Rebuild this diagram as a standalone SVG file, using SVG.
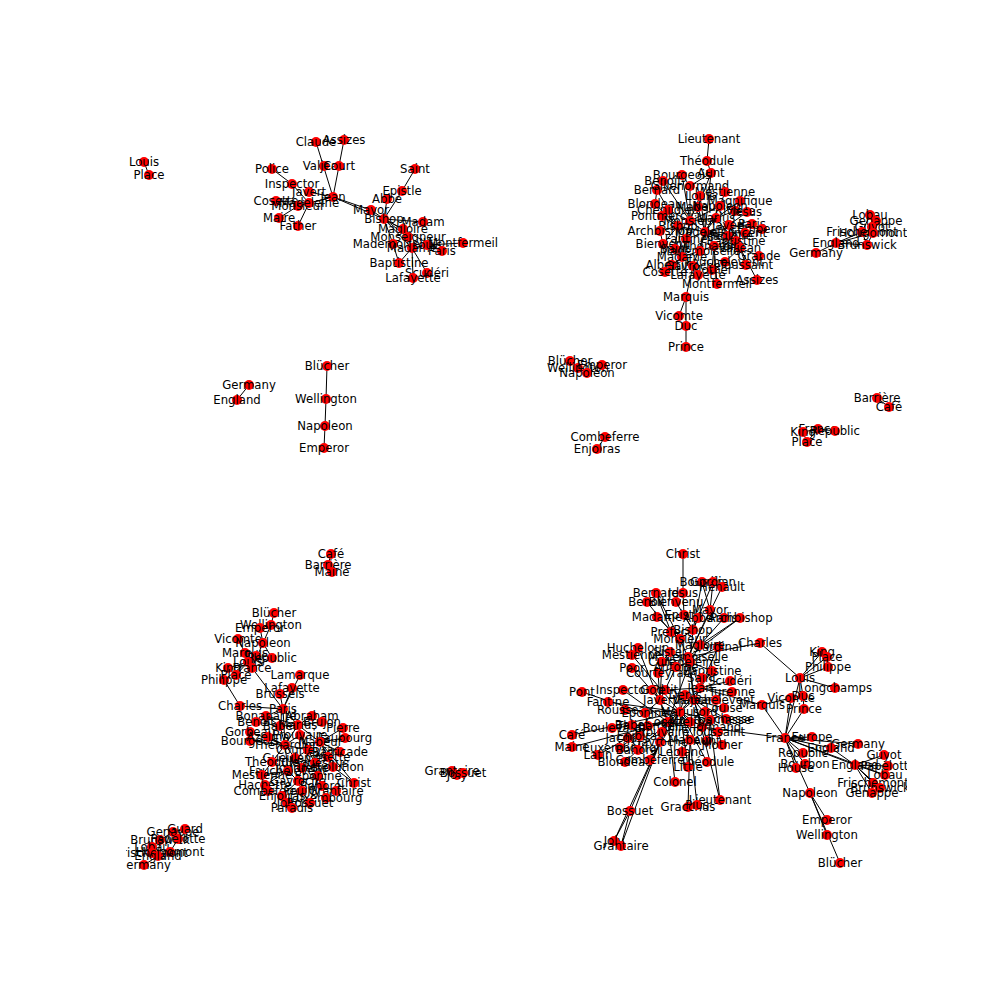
<svg xmlns="http://www.w3.org/2000/svg" width="1008" height="1008" viewBox="0 0 1008 1008">
<style>
.e{stroke:#000;stroke-width:1;fill:none}
.n circle{fill:#ff0000}
.n text{font-family:"DejaVu Sans",sans-serif;font-size:11.7px;text-anchor:middle;dominant-baseline:central;fill:#000}
</style>
<defs><clipPath id="ax"><rect x="126" y="121" width="781" height="776"/></clipPath></defs>
<rect width="1008" height="1008" fill="#fff"/>
<g id="connectors" class="e">
<path d="M144 162L149 175"/>
<path d="M316 142L333 197M344 140L333 197M272 169L292 184M292 184L309 203M309 192L333 197M309 203L333 197M298 206L333 197M276 201L309 203M279 218L298 206M298 226L309 203M333 197L371 210M333 197L384 219M371 210L384 219M387 199L384 219M415 169L402 191M402 191L384 219M384 219L423 222M384 219L403 229M384 219L408 237M384 219L393 244M384 219L412 248M384 219L442 251M412 248L399 263M412 248L413 278M412 248L427 273M412 248L427 245M427 245L463 243M393 244L399 263M408 237L412 248"/>
<path d="M709 139L707 161M707 161L711 173M711 173L690 186M711 173L698 207M682 175L690 186M663 181L690 221M657 190L678 226M690 186L690 221M725 192L720 206M740 201L716 218M655 204L678 226M700 196L690 221M700 196L705 232M668 210L690 221M735 211L716 218M747 212L729 225M662 216L678 226M698 207L705 232M720 206L705 232M716 218L705 232M690 221L705 232M690 221L678 226M678 226L705 232M729 225L705 232M752 224L705 232M762 229L729 225M660 231L678 226M745 233L705 232M705 232L686 239M705 232L714 246M705 232L700 251M728 236L705 232M686 239L690 221M736 241L705 232M663 244L678 226M714 246L740 248M740 248L705 232M675 249L678 226M700 251L682 257M759 256L740 248M682 257L690 221M725 262L740 248M746 265L740 248M672 265L682 257M693 266L705 232M712 270L714 246M665 272L682 257M698 275L682 257M717 284L714 246M757 280L740 248M686 297L693 266M686 297L679 316M686 297L686 326M686 326L686 347M716 218L690 221M678 226L682 257M686 239L682 257M729 225L740 248M716 218L740 248M720 206L690 221M740 201L735 211M660 231L663 244M663 244L682 257M752 224L762 229M714 246L700 251M736 241L740 248M668 210L662 216M657 190L655 204M682 175L690 221M711 173L705 232"/>
<path d="M816 253L836 243M836 243L867 245M836 243L862 232M836 243L873 233M862 232L870 215M873 233L876 221M867 245L873 233M870 215L876 221M872 227L873 233M867 245L862 232"/>
<path d="M249 385L237 400M327 366L326 399L325 426L324 448"/>
<path d="M570 361L578 368L587 373L602 365M605 437L597 449"/>
<path d="M877 398L889 407M803 432L807 442M803 432L818 429M818 429L835 431M807 442L818 429"/>
<path d="M331 554L328 565M328 565L332 572M274 613L271 625M271 625L260 628M260 628L263 643M271 625L263 643M263 643L272 658M263 643L252 668M238 639L245 653M245 653L252 668M256 656L252 668M248 662L228 668M248 662L236 675M248 662L224 680M248 662L252 668M272 658L252 668M224 680L240 706M252 668L283 709M300 675L283 709M292 688L283 709M280 694L283 709M240 706L283 709M312 716L298 725M283 709L298 725M283 709L266 716M266 716L280 726M256 722L280 726M250 732L285 745M250 741L285 745M280 726L298 725M298 725L285 745M322 722L298 725M343 728L320 742M300 735L285 745M268 737L285 745M345 738L320 742M320 742L298 725M285 745L295 758M308 750L285 745M340 752L320 742M328 757L308 750M295 758L288 771M272 762L285 745M315 763L308 750M302 768L295 758M333 767L328 757M288 771L298 781M262 775L288 771M318 776L315 763M298 781L302 791M265 785L288 771M354 783L333 767M322 786L318 776M268 791L282 796M336 791L322 786M302 791L310 803M282 796L298 781M326 798L322 786M287 803L282 796M310 803L318 776M292 808L287 803M285 745L288 771M298 725L308 750M300 735L308 750M320 742L328 757M298 781L318 776M295 758L315 763M250 732L250 741M280 726L285 745M266 716L298 725M308 750L295 758M302 768L298 781M272 762L262 775M265 785L268 791M354 783L320 742M283 709L285 745"/>
<path d="M144 865L158 856M158 856L152 847M158 856L160 840M158 856L170 852M158 856L152 853M160 840L173 832M173 832L185 829M178 839L173 832M178 839L170 852M152 847L160 840"/>
<path d="M452 771L457 775L463 773L452 771"/>
<path d="M683 554L683 593M683 593L684 615M702 582L693 630M713 582L693 630M722 587L688 657M702 582L710 610M713 582L710 610M656 593L671 632M647 602L671 632M676 602L693 630M656 593L680 639M710 610L688 657M657 617L680 639M684 615L693 630M698 618L693 630M724 618L700 645M740 618L700 645M740 618L688 657M671 632L680 639M680 639L693 630M680 639L690 662M718 647L690 662M638 648L668 722M632 655L680 712M688 657L690 662M700 645L690 662M693 630L690 662M632 668L660 700M658 673L690 662M712 671L690 662M730 681L700 688M623 690L668 722M582 692L645 713M732 692L700 688M608 702L680 712M625 710L680 712M724 708L694 700M726 719L694 700M612 728L668 722M572 735L680 712M572 747L668 722M628 738L680 712M620 748L648 726M598 755L648 726M625 762L668 722M650 760L680 712M707 741L694 700M707 762L680 712M688 767L680 712M675 782L668 722M720 800L710 720M720 800L694 700M688 807L690 740M697 805L690 740M630 811L660 742M614 841L630 811M621 846L630 811M621 846L660 742M614 841L660 742"/>
<path d="M690 662L700 688M700 688L694 700M694 700L680 712M660 700L680 712M680 712L668 722M668 722L648 726M648 726L640 736M660 742L668 722M645 713L660 700M702 727L680 712M690 740L680 712M716 700L694 700M718 732L702 727M710 720L694 700M632 725L648 726M662 732L668 722M690 722L680 712M682 752L690 740M665 690L660 700M702 678L700 688M652 690L660 700M670 652L690 662M662 662L670 652M676 667L690 662M685 695L694 700M705 712L710 720M722 745L718 732M638 750L640 736M690 662L694 700M700 688L680 712M680 712L710 720M668 722L660 700M640 736L632 725M645 713L648 726M702 727L710 720M665 690L700 688M676 667L665 690M662 662L660 700M685 695L680 712M660 742L690 740M662 732L660 742M680 639L680 712M688 657L694 700M690 662L668 722M658 673L660 700M712 671L700 688M718 647L700 688"/>
<path d="M760 643L800 678M760 643L688 657M800 678L822 652M800 678L827 657M800 678L828 667M800 678L835 688M800 678L803 696M800 678L785 738M762 705L791 698M791 698L803 696M803 696L804 709M804 709L785 738M791 698L785 738M762 705L785 738M762 705L700 688M785 738L702 727M785 738L812 737M785 738L831 748M785 738L803 753M785 738L805 764M785 738L796 768M785 738L855 765M785 738L858 744M831 748L855 765M855 765L884 755M855 765L888 766M855 765L885 775M855 765L873 783M855 765L880 788M855 765L872 793M785 738L885 775M785 738L810 793M810 793L827 820M810 793L827 835M810 793L840 863"/>
</g>
<g id="nodes" clip-path="url(#ax)">
<g id="a1" class="n" transform="translate(144 162)"><circle r="5"/><text>Louis</text></g>
<g id="a2" class="n" transform="translate(149 175)"><circle r="5"/><text>Place</text></g>

<g id="b1" class="n" transform="translate(316 142)"><circle r="5"/><text>Claude</text></g>
<g id="b2" class="n" transform="translate(344 140)"><circle r="5"/><text>Assizes</text></g>
<g id="b3" class="n" transform="translate(324 166)"><circle r="5"/><text>Valjean</text></g>
<g id="b4" class="n" transform="translate(339 166)"><circle r="5"/><text>Court</text></g>
<g id="b5" class="n" transform="translate(333 197)"><circle r="5"/><text>Jean</text></g>
<g id="b6" class="n" transform="translate(272 169)"><circle r="5"/><text>Police</text></g>
<g id="b7" class="n" transform="translate(292 184)"><circle r="5"/><text>Inspector</text></g>
<g id="b8" class="n" transform="translate(309 192)"><circle r="5"/><text>Javert</text></g>
<g id="b9" class="n" transform="translate(276 201)"><circle r="5"/><text>Cosette</text></g>
<g id="b10" class="n" transform="translate(298 206)"><circle r="5"/><text>Monsieur</text></g>
<g id="b11" class="n" transform="translate(309 203)"><circle r="5"/><text>Madeleine</text></g>
<g id="b12" class="n" transform="translate(279 218)"><circle r="5"/><text>Maire</text></g>
<g id="b13" class="n" transform="translate(298 226)"><circle r="5"/><text>Father</text></g>
<g id="b14" class="n" transform="translate(371 210)"><circle r="5"/><text>Mayor</text></g>
<g id="b15" class="n" transform="translate(387 199)"><circle r="5"/><text>Abbe</text></g>
<g id="b16" class="n" transform="translate(402 191)"><circle r="5"/><text>Epistle</text></g>
<g id="b17" class="n" transform="translate(415 169)"><circle r="5"/><text>Saint</text></g>
<g id="b18" class="n" transform="translate(384 219)"><circle r="5"/><text>Bishop</text></g>
<g id="b19" class="n" transform="translate(423 222)"><circle r="5"/><text>Madam</text></g>
<g id="b20" class="n" transform="translate(403 229)"><circle r="5"/><text>Magloire</text></g>
<g id="b21" class="n" transform="translate(408 237)"><circle r="5"/><text>Monseigneur</text></g>
<g id="b22" class="n" transform="translate(393 244)"><circle r="5"/><text>Mademoiselle</text></g>
<g id="b23" class="n" transform="translate(412 248)"><circle r="5"/><text>Madame</text></g>
<g id="b24" class="n" transform="translate(427 245)"><circle r="5"/><text>Louis</text></g>
<g id="b25" class="n" transform="translate(463 243)"><circle r="5"/><text>Montfermeil</text></g>
<g id="b26" class="n" transform="translate(442 251)"><circle r="5"/><text>Paris</text></g>
<g id="b27" class="n" transform="translate(399 263)"><circle r="5"/><text>Baptistine</text></g>
<g id="b28" class="n" transform="translate(427 273)"><circle r="5"/><text>Scudéri</text></g>
<g id="b29" class="n" transform="translate(413 278)"><circle r="5"/><text>Lafayette</text></g>

<g id="c1" class="n" transform="translate(709 139)"><circle r="5"/><text>Lieutenant</text></g>
<g id="c2" class="n" transform="translate(707 161)"><circle r="5"/><text>Théodule</text></g>
<g id="c3" class="n" transform="translate(711 173)"><circle r="5"/><text>Aunt</text></g>
<g id="c4" class="n" transform="translate(682 175)"><circle r="5"/><text>Bourgeois</text></g>
<g id="c5" class="n" transform="translate(663 181)"><circle r="5"/><text>Benoît</text></g>
<g id="c6" class="n" transform="translate(657 190)"><circle r="5"/><text>Bernard</text></g>
<g id="c7" class="n" transform="translate(690 186)"><circle r="5"/><text>Gillenormand</text></g>
<g id="c8" class="n" transform="translate(725 192)"><circle r="5"/><text>Mestienne</text></g>
<g id="c9" class="n" transform="translate(740 201)"><circle r="5"/><text>Magnifique</text></g>
<g id="c10" class="n" transform="translate(655 204)"><circle r="5"/><text>Blondeau</text></g>
<g id="c11" class="n" transform="translate(700 196)"><circle r="5"/><text>Louis</text></g>
<g id="c12" class="n" transform="translate(668 210)"><circle r="5"/><text>Chenildieu</text></g>
<g id="c13" class="n" transform="translate(735 211)"><circle r="5"/><text>Rivière</text></g>
<g id="c14" class="n" transform="translate(747 212)"><circle r="5"/><text>Jesus</text></g>
<g id="c15" class="n" transform="translate(662 216)"><circle r="5"/><text>Pontmercy</text></g>
<g id="c16" class="n" transform="translate(698 207)"><circle r="5"/><text>Mabeuf</text></g>
<g id="c17" class="n" transform="translate(720 206)"><circle r="5"/><text>Napoleon</text></g>
<g id="c18" class="n" transform="translate(716 218)"><circle r="5"/><text>Marius</text></g>
<g id="c19" class="n" transform="translate(690 221)"><circle r="5"/><text>Monsieur</text></g>
<g id="c20" class="n" transform="translate(678 226)"><circle r="5"/><text>Bishop</text></g>
<g id="c21" class="n" transform="translate(729 225)"><circle r="5"/><text>Javert</text></g>
<g id="c22" class="n" transform="translate(752 224)"><circle r="5"/><text>Paris</text></g>
<g id="c23" class="n" transform="translate(762 229)"><circle r="5"/><text>Emperor</text></g>
<g id="c24" class="n" transform="translate(660 231)"><circle r="5"/><text>Archbishop</text></g>
<g id="c25" class="n" transform="translate(745 233)"><circle r="5"/><text>Vincent</text></g>
<g id="c26" class="n" transform="translate(705 232)"><circle r="5"/><text>Madeleine</text></g>
<g id="c27" class="n" transform="translate(728 236)"><circle r="5"/><text>Magloire</text></g>
<g id="c28" class="n" transform="translate(686 239)"><circle r="5"/><text>Fantine</text></g>
<g id="c29" class="n" transform="translate(736 241)"><circle r="5"/><text>Baptistine</text></g>
<g id="c30" class="n" transform="translate(663 244)"><circle r="5"/><text>Bienvenu</text></g>
<g id="c31" class="n" transform="translate(714 246)"><circle r="5"/><text>Thénardier</text></g>
<g id="c32" class="n" transform="translate(740 248)"><circle r="5"/><text>Valjean</text></g>
<g id="c33" class="n" transform="translate(675 249)"><circle r="5"/><text>Saint</text></g>
<g id="c34" class="n" transform="translate(700 251)"><circle r="5"/><text>Mademoiselle</text></g>
<g id="c35" class="n" transform="translate(759 256)"><circle r="5"/><text>Grande</text></g>
<g id="c36" class="n" transform="translate(682 257)"><circle r="5"/><text>Madame</text></g>
<g id="c37" class="n" transform="translate(725 262)"><circle r="5"/><text>Fauchelevent</text></g>
<g id="c38" class="n" transform="translate(746 265)"><circle r="5"/><text>Toussaint</text></g>
<g id="c39" class="n" transform="translate(672 265)"><circle r="5"/><text>Albertine</text></g>
<g id="c40" class="n" transform="translate(693 266)"><circle r="5"/><text>Gavroche</text></g>
<g id="c41" class="n" transform="translate(712 270)"><circle r="5"/><text>Mother</text></g>
<g id="c42" class="n" transform="translate(665 272)"><circle r="5"/><text>Cosette</text></g>
<g id="c43" class="n" transform="translate(698 275)"><circle r="5"/><text>Lafayette</text></g>
<g id="c44" class="n" transform="translate(717 284)"><circle r="5"/><text>Montfermeil</text></g>
<g id="c45" class="n" transform="translate(757 280)"><circle r="5"/><text>Assizes</text></g>
<g id="c46" class="n" transform="translate(686 297)"><circle r="5"/><text>Marquis</text></g>
<g id="c47" class="n" transform="translate(679 316)"><circle r="5"/><text>Vicomte</text></g>
<g id="c48" class="n" transform="translate(686 326)"><circle r="5"/><text>Duc</text></g>
<g id="c49" class="n" transform="translate(686 347)"><circle r="5"/><text>Prince</text></g>

<g id="d1" class="n" transform="translate(870 215)"><circle r="5"/><text>Lobau</text></g>
<g id="d2" class="n" transform="translate(876 221)"><circle r="5"/><text>Genappe</text></g>
<g id="d3" class="n" transform="translate(872 227)"><circle r="5"/><text>Guyot</text></g>
<g id="d4" class="n" transform="translate(862 232)"><circle r="5"/><text>Frischemont</text></g>
<g id="d5" class="n" transform="translate(873 233)"><circle r="5"/><text>Hougomont</text></g>
<g id="d6" class="n" transform="translate(867 245)"><circle r="5"/><text>Brunswick</text></g>
<g id="d7" class="n" transform="translate(836 243)"><circle r="5"/><text>England</text></g>
<g id="d8" class="n" transform="translate(816 253)"><circle r="5"/><text>Germany</text></g>

<g id="e1" class="n" transform="translate(249 385)"><circle r="5"/><text>Germany</text></g>
<g id="e2" class="n" transform="translate(237 400)"><circle r="5"/><text>England</text></g>
<g id="e3" class="n" transform="translate(327 366)"><circle r="5"/><text>Blücher</text></g>
<g id="e4" class="n" transform="translate(326 399)"><circle r="5"/><text>Wellington</text></g>
<g id="e5" class="n" transform="translate(325 426)"><circle r="5"/><text>Napoleon</text></g>
<g id="e6" class="n" transform="translate(324 448)"><circle r="5"/><text>Emperor</text></g>

<g id="m1" class="n" transform="translate(570 361)"><circle r="5"/><text>Blücher</text></g>
<g id="m2" class="n" transform="translate(578 368)"><circle r="5"/><text>Wellington</text></g>
<g id="m4" class="n" transform="translate(602 365)"><circle r="5"/><text>Emperor</text></g>
<g id="m3" class="n" transform="translate(587 373)"><circle r="5"/><text>Napoleon</text></g>
<g id="m5" class="n" transform="translate(605 437)"><circle r="5"/><text>Combeferre</text></g>
<g id="m6" class="n" transform="translate(597 449)"><circle r="5"/><text>Enjolras</text></g>

<g id="f1" class="n" transform="translate(877 398)"><circle r="5"/><text>Barrière</text></g>
<g id="f2" class="n" transform="translate(889 407)"><circle r="5"/><text>Café</text></g>
<g id="f3" class="n" transform="translate(818 429)"><circle r="5"/><text>France</text></g>
<g id="f4" class="n" transform="translate(835 431)"><circle r="5"/><text>Republic</text></g>
<g id="f5" class="n" transform="translate(803 432)"><circle r="5"/><text>King</text></g>
<g id="f6" class="n" transform="translate(807 442)"><circle r="5"/><text>Place</text></g>

<g id="g1" class="n" transform="translate(331 554)"><circle r="5"/><text>Café</text></g>
<g id="g2" class="n" transform="translate(328 565)"><circle r="5"/><text>Barrière</text></g>
<g id="g3" class="n" transform="translate(332 572)"><circle r="5"/><text>Maine</text></g>
<g id="g4" class="n" transform="translate(274 613)"><circle r="5"/><text>Blücher</text></g>
<g id="g5" class="n" transform="translate(271 625)"><circle r="5"/><text>Wellington</text></g>
<g id="g6" class="n" transform="translate(260 628)"><circle r="5"/><text>Emperor</text></g>
<g id="g7" class="n" transform="translate(238 639)"><circle r="5"/><text>Vicomte</text></g>
<g id="g8" class="n" transform="translate(263 643)"><circle r="5"/><text>Napoleon</text></g>
<g id="g9" class="n" transform="translate(245 653)"><circle r="5"/><text>Marquis</text></g>
<g id="g10" class="n" transform="translate(256 656)"><circle r="5"/><text>Duc</text></g>
<g id="g11" class="n" transform="translate(272 658)"><circle r="5"/><text>Republic</text></g>
<g id="g12" class="n" transform="translate(248 662)"><circle r="5"/><text>Louis</text></g>
<g id="g13" class="n" transform="translate(228 668)"><circle r="5"/><text>King</text></g>
<g id="g14" class="n" transform="translate(252 668)"><circle r="5"/><text>France</text></g>
<g id="g15" class="n" transform="translate(224 680)"><circle r="5"/><text>Philippe</text></g>
<g id="g16" class="n" transform="translate(236 675)"><circle r="5"/><text>Place</text></g>
<g id="g18" class="n" transform="translate(300 675)"><circle r="5"/><text>Lamarque</text></g>
<g id="g19" class="n" transform="translate(292 688)"><circle r="5"/><text>Lafayette</text></g>
<g id="g20" class="n" transform="translate(280 694)"><circle r="5"/><text>Brussels</text></g>
<g id="g21" class="n" transform="translate(240 706)"><circle r="5"/><text>Charles</text></g>
<g id="g22" class="n" transform="translate(283 709)"><circle r="5"/><text>Paris</text></g>
<g id="g23" class="n" transform="translate(312 716)"><circle r="5"/><text>Abraham</text></g>
<g id="g24" class="n" transform="translate(266 716)"><circle r="5"/><text>Bonaparte</text></g>
<g id="g25" class="n" transform="translate(256 722)"><circle r="5"/><text>Benoît</text></g>
<g id="g26" class="n" transform="translate(250 732)"><circle r="5"/><text>Gorbeau</text></g>
<g id="g27" class="n" transform="translate(250 741)"><circle r="5"/><text>Bourgeois</text></g>
<g id="g28" class="n" transform="translate(280 726)"><circle r="5"/><text>Babet</text></g>
<g id="g29" class="n" transform="translate(298 725)"><circle r="5"/><text>Marius</text></g>
<g id="g30" class="n" transform="translate(322 722)"><circle r="5"/><text>Brujon</text></g>
<g id="g31" class="n" transform="translate(343 728)"><circle r="5"/><text>Pierre</text></g>
<g id="g32" class="n" transform="translate(300 735)"><circle r="5"/><text>Prouvaire</text></g>
<g id="g33" class="n" transform="translate(268 737)"><circle r="5"/><text>Azelma</text></g>
<g id="g34" class="n" transform="translate(345 738)"><circle r="5"/><text>Faubourg</text></g>
<g id="g35" class="n" transform="translate(320 742)"><circle r="5"/><text>Mabeuf</text></g>
<g id="g36" class="n" transform="translate(285 745)"><circle r="5"/><text>Thénardier</text></g>
<g id="g37" class="n" transform="translate(308 750)"><circle r="5"/><text>Courfeyrac</text></g>
<g id="g38" class="n" transform="translate(340 752)"><circle r="5"/><text>Barricade</text></g>
<g id="g39" class="n" transform="translate(328 757)"><circle r="5"/><text>Cosette</text></g>
<g id="g40" class="n" transform="translate(295 758)"><circle r="5"/><text>Gueulemer</text></g>
<g id="g41" class="n" transform="translate(272 762)"><circle r="5"/><text>Théodule</text></g>
<g id="g42" class="n" transform="translate(315 763)"><circle r="5"/><text>Claquesous</text></g>
<g id="g43" class="n" transform="translate(302 768)"><circle r="5"/><text>Jondrette</text></g>
<g id="g44" class="n" transform="translate(333 767)"><circle r="5"/><text>Revolution</text></g>
<g id="g45" class="n" transform="translate(288 771)"><circle r="5"/><text>Fauchelevent</text></g>
<g id="g46" class="n" transform="translate(262 775)"><circle r="5"/><text>Mestienne</text></g>
<g id="g47" class="n" transform="translate(318 776)"><circle r="5"/><text>Éponine</text></g>
<g id="g48" class="n" transform="translate(298 781)"><circle r="5"/><text>Gavroche</text></g>
<g id="g49" class="n" transform="translate(265 785)"><circle r="5"/><text>Hachette</text></g>
<g id="g50" class="n" transform="translate(354 783)"><circle r="5"/><text>Christ</text></g>
<g id="g51" class="n" transform="translate(322 786)"><circle r="5"/><text>Bahorel</text></g>
<g id="g52" class="n" transform="translate(268 791)"><circle r="5"/><text>Combeferre</text></g>
<g id="g53" class="n" transform="translate(336 791)"><circle r="5"/><text>Grantaire</text></g>
<g id="g54" class="n" transform="translate(302 791)"><circle r="5"/><text>Feuilly</text></g>
<g id="g55" class="n" transform="translate(282 796)"><circle r="5"/><text>Enjolras</text></g>
<g id="g56" class="n" transform="translate(326 798)"><circle r="5"/><text>Luxembourg</text></g>
<g id="g57" class="n" transform="translate(287 803)"><circle r="5"/><text>Joly</text></g>
<g id="g58" class="n" transform="translate(310 803)"><circle r="5"/><text>Bossuet</text></g>
<g id="g59" class="n" transform="translate(292 808)"><circle r="5"/><text>Paradis</text></g>

<g id="h1" class="n" transform="translate(173 832)"><circle r="5"/><text>Genappe</text></g>
<g id="h2" class="n" transform="translate(185 829)"><circle r="5"/><text>Guard</text></g>
<g id="h3" class="n" transform="translate(160 840)"><circle r="5"/><text>Brunswick</text></g>
<g id="h4" class="n" transform="translate(178 839)"><circle r="5"/><text>Papelotte</text></g>
<g id="h5" class="n" transform="translate(152 847)"><circle r="5"/><text>Lobau</text></g>
<g id="h6" class="n" transform="translate(170 852)"><circle r="5"/><text>Hougomont</text></g>
<g id="h7" class="n" transform="translate(152 853)"><circle r="5"/><text>Frischemont</text></g>
<g id="h8" class="n" transform="translate(158 856)"><circle r="5"/><text>England</text></g>
<g id="h9" class="n" transform="translate(144 865)"><circle r="5"/><text>Germany</text></g>

<g id="i1" class="n" transform="translate(452 771)"><circle r="5"/><text>Grantaire</text></g>
<g id="i2" class="n" transform="translate(457 775)"><circle r="5"/><text>Joly</text></g>
<g id="i3" class="n" transform="translate(463 773)"><circle r="5"/><text>Bossuet</text></g>

<g id="j1" class="n" transform="translate(683 554)"><circle r="5"/><text>Christ</text></g>
<g id="j2" class="n" transform="translate(702 582)"><circle r="5"/><text>Bourdin</text></g>
<g id="j3" class="n" transform="translate(713 582)"><circle r="5"/><text>Gordian</text></g>
<g id="j4" class="n" transform="translate(722 587)"><circle r="5"/><text>Hénault</text></g>
<g id="j5" class="n" transform="translate(656 593)"><circle r="5"/><text>Bernard</text></g>
<g id="j6" class="n" transform="translate(683 593)"><circle r="5"/><text>Jesus</text></g>
<g id="j7" class="n" transform="translate(647 602)"><circle r="5"/><text>Benoît</text></g>
<g id="j8" class="n" transform="translate(676 602)"><circle r="5"/><text>Bienvenu</text></g>
<g id="j9" class="n" transform="translate(710 610)"><circle r="5"/><text>Mayor</text></g>
<g id="j10" class="n" transform="translate(657 617)"><circle r="5"/><text>Madame</text></g>
<g id="j11" class="n" transform="translate(684 615)"><circle r="5"/><text>Epistle</text></g>
<g id="j12" class="n" transform="translate(698 618)"><circle r="5"/><text>Abbé</text></g>
<g id="j13" class="n" transform="translate(724 618)"><circle r="5"/><text>Paris</text></g>
<g id="j14" class="n" transform="translate(740 618)"><circle r="5"/><text>Archbishop</text></g>
<g id="j15" class="n" transform="translate(671 632)"><circle r="5"/><text>Prefect</text></g>
<g id="j16" class="n" transform="translate(680 639)"><circle r="5"/><text>Monsieur</text></g>
<g id="j17" class="n" transform="translate(718 647)"><circle r="5"/><text>Cardinal</text></g>
<g id="j18" class="n" transform="translate(638 648)"><circle r="5"/><text>Hucheloup</text></g>
<g id="j19" class="n" transform="translate(632 655)"><circle r="5"/><text>Mestienne</text></g>
<g id="j20" class="n" transform="translate(688 657)"><circle r="5"/><text>Mademoiselle</text></g>
<g id="j21" class="n" transform="translate(700 645)"><circle r="5"/><text>Magloire</text></g>
<g id="j22" class="n" transform="translate(693 630)"><circle r="5"/><text>Bishop</text></g>
<g id="j23" class="n" transform="translate(632 668)"><circle r="5"/><text>Poor</text></g>
<g id="j24" class="n" transform="translate(658 673)"><circle r="5"/><text>Courfeyrac</text></g>
<g id="j25" class="n" transform="translate(712 671)"><circle r="5"/><text>Baptistine</text></g>
<g id="j26" class="n" transform="translate(730 681)"><circle r="5"/><text>Scudéri</text></g>
<g id="j27" class="n" transform="translate(623 690)"><circle r="5"/><text>Inspector</text></g>
<g id="j28" class="n" transform="translate(582 692)"><circle r="5"/><text>Pont</text></g>
<g id="j29" class="n" transform="translate(732 692)"><circle r="5"/><text>Turenne</text></g>
<g id="j30" class="n" transform="translate(608 702)"><circle r="5"/><text>Fantine</text></g>
<g id="j31" class="n" transform="translate(625 710)"><circle r="5"/><text>Rousseau</text></g>
<g id="j32" class="n" transform="translate(724 708)"><circle r="5"/><text>Louise</text></g>
<g id="j33" class="n" transform="translate(726 719)"><circle r="5"/><text>Duchesse</text></g>
<g id="j34" class="n" transform="translate(612 728)"><circle r="5"/><text>Boulevard</text></g>
<g id="j35" class="n" transform="translate(572 735)"><circle r="5"/><text>Café</text></g>
<g id="j36" class="n" transform="translate(572 747)"><circle r="5"/><text>Maine</text></g>
<g id="j37" class="n" transform="translate(628 738)"><circle r="5"/><text>Jacques</text></g>
<g id="j38" class="n" transform="translate(620 748)"><circle r="5"/><text>Luxembourg</text></g>
<g id="j39" class="n" transform="translate(598 755)"><circle r="5"/><text>Latin</text></g>
<g id="j40" class="n" transform="translate(625 762)"><circle r="5"/><text>Blondeau</text></g>
<g id="j41" class="n" transform="translate(650 760)"><circle r="5"/><text>Combeferre</text></g>
<g id="j42" class="n" transform="translate(707 741)"><circle r="5"/><text>Aunt</text></g>
<g id="j43" class="n" transform="translate(707 762)"><circle r="5"/><text>Théodule</text></g>
<g id="j44" class="n" transform="translate(688 767)"><circle r="5"/><text>Little</text></g>
<g id="j45" class="n" transform="translate(675 782)"><circle r="5"/><text>Colonel</text></g>
<g id="j46" class="n" transform="translate(720 800)"><circle r="5"/><text>Lieutenant</text></g>
<g id="j47" class="n" transform="translate(688 807)"><circle r="5"/><text>Gracchus</text></g>
<g id="j48" class="n" transform="translate(697 805)"><circle r="5"/><text>Pius</text></g>
<g id="j49" class="n" transform="translate(630 811)"><circle r="5"/><text>Bossuet</text></g>
<g id="j50" class="n" transform="translate(614 841)"><circle r="5"/><text>Joly</text></g>
<g id="j51" class="n" transform="translate(621 846)"><circle r="5"/><text>Grantaire</text></g>
<g id="j52" class="n" transform="translate(690 662)"><circle r="5"/><text>Madeleine</text></g>
<g id="j53" class="n" transform="translate(700 688)"><circle r="5"/><text>Jean</text></g>
<g id="j54" class="n" transform="translate(694 700)"><circle r="5"/><text>Valjean</text></g>
<g id="j55" class="n" transform="translate(660 700)"><circle r="5"/><text>Javert</text></g>
<g id="j56" class="n" transform="translate(680 712)"><circle r="5"/><text>Marius</text></g>
<g id="j57" class="n" transform="translate(668 722)"><circle r="5"/><text>Cosette</text></g>
<g id="j58" class="n" transform="translate(648 726)"><circle r="5"/><text>Thénardier</text></g>
<g id="j59" class="n" transform="translate(660 742)"><circle r="5"/><text>Gavroche</text></g>
<g id="j60" class="n" transform="translate(640 736)"><circle r="5"/><text>Enjolras</text></g>
<g id="j61" class="n" transform="translate(645 713)"><circle r="5"/><text>Éponine</text></g>
<g id="j62" class="n" transform="translate(702 727)"><circle r="5"/><text>Gillenormand</text></g>
<g id="j63" class="n" transform="translate(690 740)"><circle r="5"/><text>Mabeuf</text></g>
<g id="j64" class="n" transform="translate(716 700)"><circle r="5"/><text>Fauchelevent</text></g>
<g id="j65" class="n" transform="translate(718 732)"><circle r="5"/><text>Toussaint</text></g>
<g id="j66" class="n" transform="translate(710 720)"><circle r="5"/><text>Montparnasse</text></g>
<g id="j67" class="n" transform="translate(632 725)"><circle r="5"/><text>Babet</text></g>
<g id="j68" class="n" transform="translate(662 732)"><circle r="5"/><text>Prouvaire</text></g>
<g id="j69" class="n" transform="translate(690 722)"><circle r="5"/><text>Azelma</text></g>
<g id="j70" class="n" transform="translate(682 752)"><circle r="5"/><text>Leblanc</text></g>
<g id="j71" class="n" transform="translate(665 690)"><circle r="5"/><text>Petit</text></g>
<g id="j72" class="n" transform="translate(702 678)"><circle r="5"/><text>Saint</text></g>
<g id="j73" class="n" transform="translate(652 690)"><circle r="5"/><text>God</text></g>
<g id="j74" class="n" transform="translate(670 652)"><circle r="5"/><text>Sister</text></g>
<g id="j75" class="n" transform="translate(662 662)"><circle r="5"/><text>Curé</text></g>
<g id="j76" class="n" transform="translate(676 667)"><circle r="5"/><text>Antoine</text></g>
<g id="j77" class="n" transform="translate(685 695)"><circle r="5"/><text>Denis</text></g>
<g id="j78" class="n" transform="translate(705 712)"><circle r="5"/><text>Lord</text></g>
<g id="j79" class="n" transform="translate(722 745)"><circle r="5"/><text>Mother</text></g>
<g id="j80" class="n" transform="translate(638 750)"><circle r="5"/><text>Bahorel</text></g>
<g id="j81" class="n" transform="translate(760 643)"><circle r="5"/><text>Charles</text></g>
<g id="j82" class="n" transform="translate(822 652)"><circle r="5"/><text>King</text></g>
<g id="j83" class="n" transform="translate(827 657)"><circle r="5"/><text>Place</text></g>
<g id="j84" class="n" transform="translate(828 667)"><circle r="5"/><text>Philippe</text></g>
<g id="j85" class="n" transform="translate(800 678)"><circle r="5"/><text>Louis</text></g>
<g id="j86" class="n" transform="translate(835 688)"><circle r="5"/><text>Longchamps</text></g>
<g id="j87" class="n" transform="translate(791 698)"><circle r="5"/><text>Vicomte</text></g>
<g id="j88" class="n" transform="translate(803 696)"><circle r="5"/><text>Duc</text></g>
<g id="j89" class="n" transform="translate(804 709)"><circle r="5"/><text>Prince</text></g>
<g id="j90" class="n" transform="translate(762 705)"><circle r="5"/><text>Marquis</text></g>
<g id="j91" class="n" transform="translate(785 738)"><circle r="5"/><text>France</text></g>
<g id="j92" class="n" transform="translate(812 737)"><circle r="5"/><text>Europe</text></g>
<g id="j93" class="n" transform="translate(858 744)"><circle r="5"/><text>Germany</text></g>
<g id="j94" class="n" transform="translate(831 748)"><circle r="5"/><text>England</text></g>
<g id="j95" class="n" transform="translate(803 753)"><circle r="5"/><text>Republic</text></g>
<g id="j96" class="n" transform="translate(805 764)"><circle r="5"/><text>Bourbon</text></g>
<g id="j97" class="n" transform="translate(796 768)"><circle r="5"/><text>House</text></g>
<g id="j98" class="n" transform="translate(855 765)"><circle r="5"/><text>England</text></g>
<g id="j99" class="n" transform="translate(884 755)"><circle r="5"/><text>Guyot</text></g>
<g id="j100" class="n" transform="translate(888 766)"><circle r="5"/><text>Papelotte</text></g>
<g id="j101" class="n" transform="translate(885 775)"><circle r="5"/><text>Lobau</text></g>
<g id="j102" class="n" transform="translate(873 783)"><circle r="5"/><text>Frischemont</text></g>
<g id="j103" class="n" transform="translate(880 788)"><circle r="5"/><text>Brunswick</text></g>
<g id="j104" class="n" transform="translate(872 793)"><circle r="5"/><text>Genappe</text></g>
<g id="j105" class="n" transform="translate(810 793)"><circle r="5"/><text>Napoleon</text></g>
<g id="j106" class="n" transform="translate(827 820)"><circle r="5"/><text>Emperor</text></g>
<g id="j107" class="n" transform="translate(827 835)"><circle r="5"/><text>Wellington</text></g>
<g id="j108" class="n" transform="translate(840 863)"><circle r="5"/><text>Blücher</text></g>
</g>
</svg>
